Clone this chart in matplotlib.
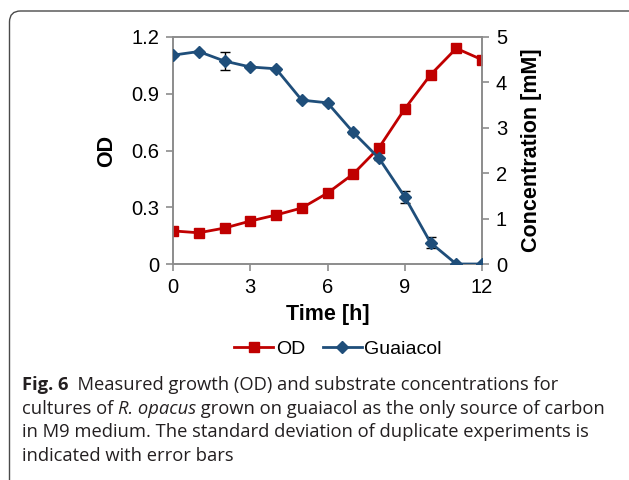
import matplotlib
matplotlib.use("Agg")
import matplotlib.pyplot as plt
from matplotlib.patches import FancyBboxPatch
from matplotlib.lines import Line2D

time_h = [0, 1, 2, 3, 4, 5, 6, 7, 8, 9, 10, 11, 12]
od = [0.175, 0.165, 0.19, 0.227, 0.259, 0.296, 0.375, 0.476, 0.615, 0.82, 1.0, 1.14, 1.08]
od_err = [0, 0, 0, 0, 0, 0, 0, 0, 0, 0, 0, 0, 0]
guaiacol = [4.60, 4.68, 4.47, 4.34, 4.30, 3.61, 3.55, 2.90, 2.33, 1.48, 0.47, 0.0, 0.0]
guaiacol_err = [0.02, 0.02, 0.2, 0.03, 0.02, 0.03, 0.02, 0.03, 0.03, 0.13, 0.12, 0, 0]

RED = "#C00000"
BLUE = "#1F4E7A"
GREY = "#8C8C8C"

plt.rcParams["font.family"] = ["Liberation Sans", "DejaVu Sans"]

fig = plt.figure(figsize=(6.29, 4.8), dpi=100)

# rounded frame in inches (isotropic corners); right/bottom edges run off the canvas
frame = FancyBboxPatch((0.095, -0.12), 6.45, 4.69 + 0.12,
                       boxstyle="round,pad=0,rounding_size=0.11",
                       transform=fig.dpi_scale_trans, fill=False,
                       edgecolor="#4a4a4a", linewidth=1.0, clip_on=False)
fig.patches.append(frame)

ax = fig.add_axes([173 / 629, 1 - 264 / 480, (482 - 173) / 629, (264 - 37) / 480])
ax2 = ax.twinx()

ax.errorbar(time_h, od, yerr=od_err, color=RED, marker="s", markersize=7,
            linewidth=2, ecolor="black", elinewidth=1, capsize=3.5, zorder=3)
ax2.errorbar(time_h, guaiacol, yerr=guaiacol_err, color=BLUE, marker="D",
             markersize=6.5, linewidth=2, ecolor="black", elinewidth=1,
             capsize=3.5, zorder=3)

ax.set_xlim(0, 12)
ax.set_ylim(0, 1.2)
ax2.set_ylim(0, 5)
ax.set_xticks([0, 3, 6, 9, 12])
ax.set_yticks([0, 0.3, 0.6, 0.9, 1.2])
ax.set_yticklabels(["0", "0.3", "0.6", "0.9", "1.2"])
ax2.set_yticks([0, 1, 2, 3, 4, 5])

for a in (ax, ax2):
    for s in a.spines.values():
        s.set_color(GREY)
        s.set_linewidth(1.2)
    a.tick_params(colors=GREY, labelcolor="black", labelsize=14.5,
                  length=5, width=1.2, direction="out", pad=5)

ax.set_xlabel("Time [h]", fontsize=15.5, fontweight="bold", labelpad=5)
ax.set_ylabel("OD", fontsize=15.5, fontweight="bold", labelpad=10)
ax2.set_ylabel("Concentration [mM]", fontsize=15.5, fontweight="bold", labelpad=10)

handles = [Line2D([], [], color=RED, marker="s", markersize=7, linewidth=2),
           Line2D([], [], color=BLUE, marker="D", markersize=6.5, linewidth=2)]
fig.legend(handles, ["OD", "Guaiacol"], loc="center", bbox_to_anchor=(338 / 629, 1 - 349 / 480),
           ncol=2, frameon=False, fontsize=14, handlelength=2.0,
           handletextpad=0.15, columnspacing=0.9)

# caption, drawn run by run so bold/italic pieces sit inline
renderer = fig.canvas.get_renderer()
caption = [
    [("Fig. 6", "bold", "normal"), ("  Measured growth (OD) and substrate concentrations for", "normal", "normal")],
    [("cultures of ", "normal", "normal"), ("R. opacus", "normal", "italic"),
     (" grown on guaiacol as the only source of carbon", "normal", "normal")],
    [("in M9 medium. The standard deviation of duplicate experiments is", "normal", "normal")],
    [("indicated with error bars", "normal", "normal")],
]
baselines = [390, 414, 437, 461]
for runs, yb in zip(caption, baselines):
    x = 22
    for txt, weight, style in runs:
        t = fig.text(x / 629, 1 - yb / 480, txt, family="Open Sans", fontsize=13.2,
                     fontweight=weight, fontstyle=style, color="#231f20",
                     va="baseline", ha="left")
        x += t.get_window_extent(renderer).width

fig.savefig("out.png", dpi=100)
